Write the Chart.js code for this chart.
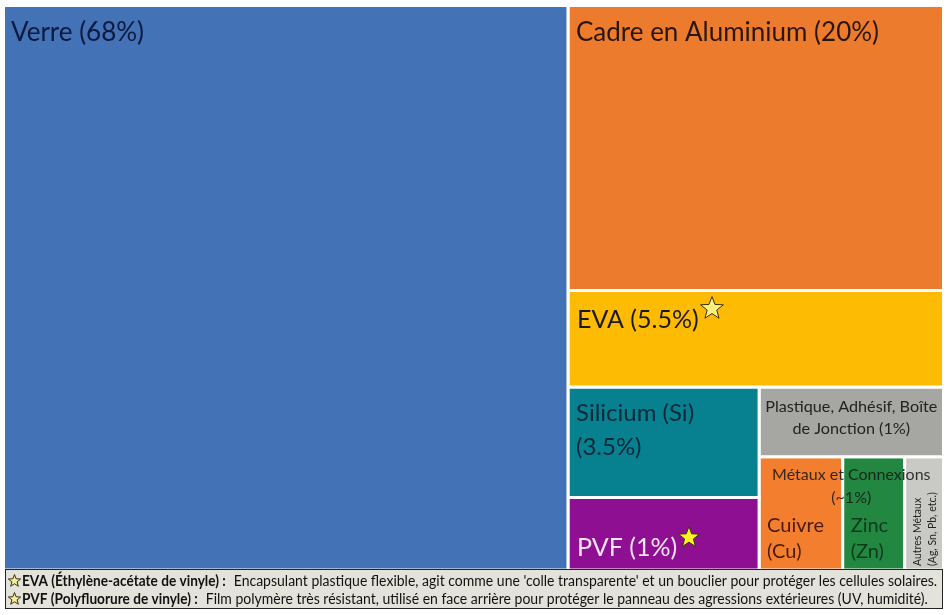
<!DOCTYPE html>
<html lang="fr">
<head>
<meta charset="utf-8">
<title>Composition d'un panneau solaire</title>
<script src="https://cdn.jsdelivr.net/npm/chart.js@4"></script>
<style>
    html, body { margin: 0; padding: 0; background: #ffffff; }
    canvas { display: block; }
</style>
</head>
<body>
<canvas id="treemap" width="947" height="615"></canvas>
<script>
// cells, and the share of the drawing area each one takes in the picture
const cellNames = ['Verre', 'Cadre', 'EVA', 'Silicium', 'PVF', 'Plastique', 'Cuivre', 'Zinc', 'Autres'];
const cellAreas = [60.05, 20.17, 6.83, 3.98, 2.61, 2.42, 1.785, 1.324, 0.831];
const cellColors = ['#4472b6', '#ed7b2e', '#fdbb04', '#07808f', '#8f0f93', '#a6a6a3', '#f37f2e', '#228741', '#c9c9c5'];

const noteTerms = ['EVA (Éthylène-acétate de vinyle) :', 'PVF (Polyfluorure de vinyle) :'];
const noteTexts = [
    "Encapsulant plastique flexible, agit comme une 'colle transparente' et un bouclier pour protéger les cellules solaires.",
    'Film polymère très résistant, utilisé en face arrière pour protéger le panneau des agressions extérieures (UV, humidité).'
];

// how the cells nest: 'h' splits left to right, 'v' splits top to bottom
const tree = ['h', 'Verre', ['v', 'Cadre', 'EVA', ['h',
    ['v', 'Silicium', 'PVF'],
    ['v', 'Plastique', ['h', 'Cuivre', 'Zinc', 'Autres']]
]]];

function nodeArea(node) {
    if (typeof node === 'string') {
        return cellAreas[cellNames.indexOf(node)];
    }
    return node.slice(1).reduce((sum, child) => sum + nodeArea(child), 0);
}

function layout(node, box, out) {
    if (typeof node === 'string') {
        out[node] = box;
        return out;
    }
    const total = nodeArea(node);
    let start = node[0] === 'h' ? box.x0 : box.y0;
    node.slice(1).forEach(child => {
        const share = nodeArea(child) / total;
        if (node[0] === 'h') {
            const end = start + (box.x1 - box.x0) * share;
            layout(child, { x0: start, x1: end, y0: box.y0, y1: box.y1 }, out);
            start = end;
        } else {
            const end = start + (box.y1 - box.y0) * share;
            layout(child, { x0: box.x0, x1: box.x1, y0: start, y1: end }, out);
            start = end;
        }
    });
    return out;
}

const boxes = layout(tree, { x0: 0, x1: 100, y0: 0, y1: 100 }, {});

const datasets = cellNames.map((name, i) => {
    const b = boxes[name];
    return {
        label: name,
        data: [
            { x: b.x0, y: b.y0 }, { x: b.x1, y: b.y0 },
            { x: b.x1, y: b.y1 }, { x: b.x0, y: b.y1 }, { x: b.x0, y: b.y0 }
        ],
        backgroundColor: cellColors[i],
        borderColor: '#ffffff',
        borderWidth: 3,
        borderJoinStyle: 'miter',
        pointRadius: 0,
        tension: 0,
        fill: 'shape',
        clip: false
    };
});

const FONT = 'Lato, "Open Sans", sans-serif';

function drawStar(ctx, cx, cy, r, fill) {
    ctx.save();
    ctx.beginPath();
    for (let i = 0; i < 10; i++) {
        const rad = i % 2 === 0 ? r : r * 0.42;
        const a = -Math.PI / 2 + i * Math.PI / 5;
        ctx.lineTo(cx + rad * Math.cos(a), cy + rad * Math.sin(a));
    }
    ctx.closePath();
    ctx.fillStyle = fill;
    ctx.fill();
    ctx.lineWidth = 1;
    ctx.strokeStyle = '#3a3010';
    ctx.stroke();
    ctx.restore();
}

function put(ctx, text, x, y, size, color, align) {
    ctx.font = size + 'px ' + FONT;
    ctx.fillStyle = color;
    ctx.textAlign = align || 'left';
    ctx.textBaseline = 'middle';
    ctx.fillText(text, x, y);
}

const labelPlugin = {
    id: 'labels',
    afterDatasetsDraw(chart) {
        const ctx = chart.ctx;
        const xs = chart.scales.x;
        const ys = chart.scales.y;
        const left = name => xs.getPixelForValue(boxes[name].x0);
        const top = name => ys.getPixelForValue(boxes[name].y0);
        const mid = name => xs.getPixelForValue((boxes[name].x0 + boxes[name].x1) / 2);

        ctx.save();
        put(ctx, 'Verre (68%)', left('Verre') + 7.5, top('Verre') + 27, 26, '#0c1a40');
        put(ctx, 'Cadre en Aluminium (20%)', left('Cadre') + 8, top('Cadre') + 27, 26, '#2a1608');
        put(ctx, 'EVA (5.5%)', left('EVA') + 9, top('EVA') + 29, 25, '#1c1a10');
        drawStar(ctx, left('EVA') + 144, top('EVA') + 18, 12, '#fbf17a');
        put(ctx, 'Silicium (Si)', left('Silicium') + 8, top('Silicium') + 26, 24, '#08283a');
        put(ctx, '(3.5%)', left('Silicium') + 8, top('Silicium') + 60, 24, '#08283a');
        put(ctx, 'PVF (1%)', left('PVF') + 9, top('PVF') + 50, 25, '#f6e4f6');
        drawStar(ctx, left('PVF') + 121, top('PVF') + 40, 11, '#fdf023');
        put(ctx, 'Plastique, Adhésif, Boîte', mid('Plastique'), top('Plastique') + 20, 16.2, '#222222', 'center');
        put(ctx, 'de Jonction (1%)', mid('Plastique'), top('Plastique') + 42, 16.2, '#222222', 'center');
        put(ctx, 'Cuivre', left('Cuivre') + 8, top('Cuivre') + 69, 20, '#4a1a08');
        put(ctx, '(Cu)', left('Cuivre') + 8, top('Cuivre') + 95, 20, '#4a1a08');
        put(ctx, 'Zinc', left('Zinc') + 8, top('Zinc') + 69, 20, '#0c3a1c');
        put(ctx, '(Zn)', left('Zinc') + 8, top('Zinc') + 95, 20, '#0c3a1c');
        const metalsX = mid('Plastique');
        put(ctx, 'Métaux et Connexions', metalsX, top('Cuivre') + 18, 16, 'rgba(20, 20, 20, 0.85)', 'center');
        put(ctx, '(~1%)', metalsX, top('Cuivre') + 41, 16, 'rgba(20, 20, 20, 0.85)', 'center');

        // narrow cell, text reads bottom to top
        ctx.save();
        ctx.translate(left('Autres') + 13, ys.bottom - 4);
        ctx.rotate(-Math.PI / 2);
        put(ctx, 'Autres Métaux', 0, 0, 10.5, '#222222');
        put(ctx, '(Ag, Sn, Pb, etc.)', 0, 15, 10.5, '#222222');
        ctx.restore();

        // note box under the cells
        ctx.fillStyle = '#e3e3dc';
        ctx.fillRect(5, 569, 938, 40);
        ctx.strokeStyle = '#222222';
        ctx.lineWidth = 1;
        ctx.strokeRect(5.5, 569.5, 937, 39);
        noteTerms.forEach((term, i) => {
            const y = 581 + i * 18;
            drawStar(ctx, 14.5, y, 6.5, '#f7ee9a');
            ctx.fillStyle = '#111111';
            ctx.textAlign = 'left';
            ctx.textBaseline = 'middle';
            ctx.save();
            ctx.translate(22, y);
            ctx.scale(0.94, 1);
            ctx.font = 'bold 14.5px ' + FONT;
            ctx.fillText(term, 0, 0);
            const w = ctx.measureText(term).width * 0.94;
            ctx.restore();
            ctx.save();
            ctx.translate(22 + w + 8, y);
            ctx.scale(0.966, 1);
            ctx.font = '14.5px ' + FONT;
            ctx.fillText(noteTexts[i], 0, 0);
            ctx.restore();
        });
        ctx.restore();
    }
};

new Chart(document.getElementById('treemap').getContext('2d'), {
    type: 'line',
    data: { datasets: datasets },
    plugins: [labelPlugin],
    options: {
        responsive: false,
        animation: false,
        layout: { padding: { left: 3.5, right: 3.5, top: 5.5, bottom: 45 } },
        plugins: {
            legend: { display: false },
            title: { display: false },
            tooltip: { enabled: false }
        },
        scales: {
            x: { type: 'linear', min: 0, max: 100, display: false },
            y: { type: 'linear', min: 0, max: 100, reverse: true, display: false }
        }
    }
});
</script>
</body>
</html>
